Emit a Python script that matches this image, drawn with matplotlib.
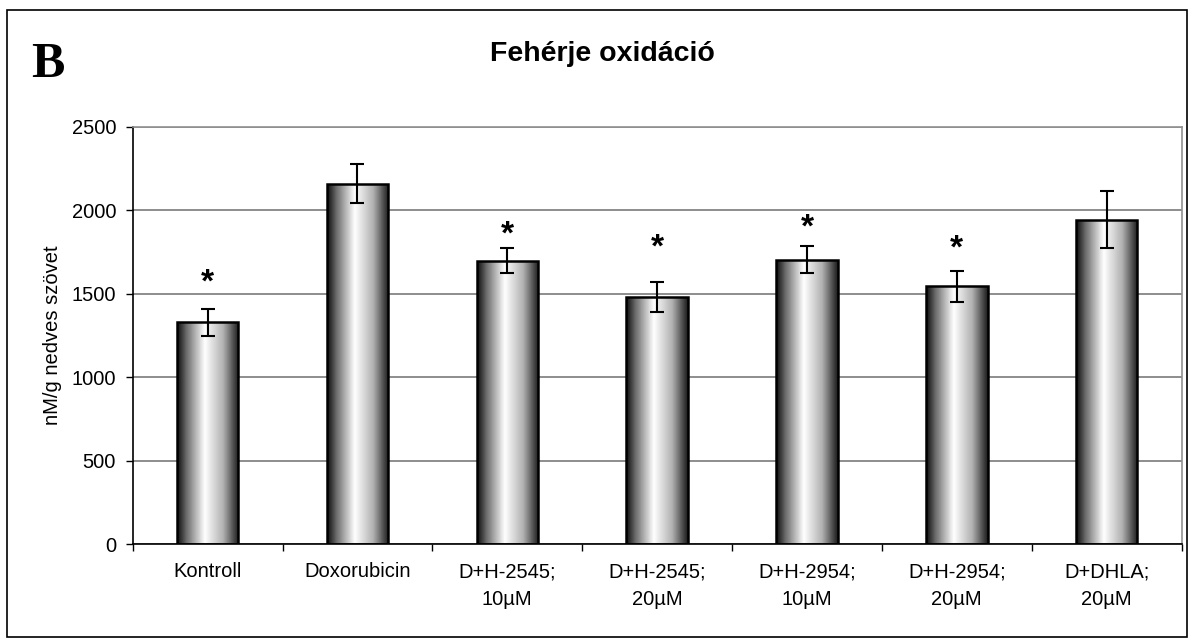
import numpy as np
import matplotlib
matplotlib.use("Agg")
import matplotlib.pyplot as plt
from matplotlib.colors import LinearSegmentedColormap
from matplotlib.patches import Rectangle

plt.rcParams['font.family'] = ['Liberation Sans', 'DejaVu Sans']

# data
categories = ["Kontroll", "Doxorubicin", "D+H-2545;\n10µM", "D+H-2545;\n20µM",
              "D+H-2954;\n10µM", "D+H-2954;\n20µM", "D+DHLA;\n20µM"]
values = [1330, 2160, 1700, 1480, 1705, 1545, 1945]
errors = [80, 118, 75, 90, 80, 95, 170]
significant = [True, False, True, True, True, True, False]
star_levels = [1515, 0, 1800, 1725, 1845, 1720, 0]

# bars shaded dark at the edges, white near the middle
shade = LinearSegmentedColormap.from_list(
    "shade", [(0.0, "#0a0a0a"), (0.15, "#6a6a6a"), (0.45, "#ffffff"),
              (0.75, "#b0b0b0"), (1.0, "#1a1a1a")])
grad = np.linspace(0, 1, 256).reshape(1, -1)

fs = 14.5

fig = plt.figure(figsize=(11.9, 6.39), dpi=100)
fig.patches.append(Rectangle((0.006, 0.003), 0.9915, 0.981, transform=fig.transFigure,
                             fill=False, edgecolor="black", linewidth=1.2))

ax = fig.add_axes([0.1115, 0.148, 0.8814, 0.6534])
x = np.arange(len(categories))
width = 0.41

bars = ax.bar(x, values, width=width, facecolor="none", edgecolor="black",
              linewidth=1.8, zorder=3)
for b in bars:
    x0, y0 = b.get_x(), b.get_y()
    im = ax.imshow(grad, cmap=shade, aspect="auto", interpolation="nearest",
                   extent=[x0, x0 + b.get_width(), y0, y0 + b.get_height()], zorder=2)
    im.set_clip_path(b)

ax.errorbar(x, values, yerr=errors, fmt="none", ecolor="black", elinewidth=1.5,
            capsize=5, capthick=1.5, zorder=4)

for xi, sig, lvl in zip(x, significant, star_levels):
    if sig:
        ax.text(xi, lvl, "*", ha="center", va="baseline", fontsize=24,
                fontweight="bold", zorder=5)

ax.set_xlim(-0.5, len(categories) - 0.5)
ax.set_ylim(0, 2500)
ax.set_yticks(range(0, 2501, 500))
ax.yaxis.grid(True, color="#7a7a7a", linewidth=1.2, zorder=0)
ax.set_axisbelow(True)

ax.set_xticks(x)
ax.set_xticklabels(categories, fontsize=fs, linespacing=1.6)
ax.set_xticks(np.arange(-0.5, len(categories), 1.0), minor=True)
ax.tick_params(axis="x", which="major", length=0, pad=13)
ax.tick_params(axis="x", which="minor", length=5, width=1, color="black")
ax.tick_params(axis="y", length=5, width=1, labelsize=fs, pad=7)

for s in ["left", "bottom"]:
    ax.spines[s].set_color("black")
    ax.spines[s].set_linewidth(1.2)
for s in ["top", "right"]:
    ax.spines[s].set_color("#909090")
    ax.spines[s].set_linewidth(1.2)

ax.set_ylabel("nM/g nedves szövet", fontsize=fs, labelpad=7)

fig.text(0.506, 0.905, "Fehérje oxidáció", ha="center", va="baseline",
         fontsize=20.5, fontweight="bold")
fig.text(0.026, 0.898, "B", ha="left", va="center", fontsize=36,
         fontweight="bold", family="Liberation Serif")

fig.savefig("out.png", dpi=100)
